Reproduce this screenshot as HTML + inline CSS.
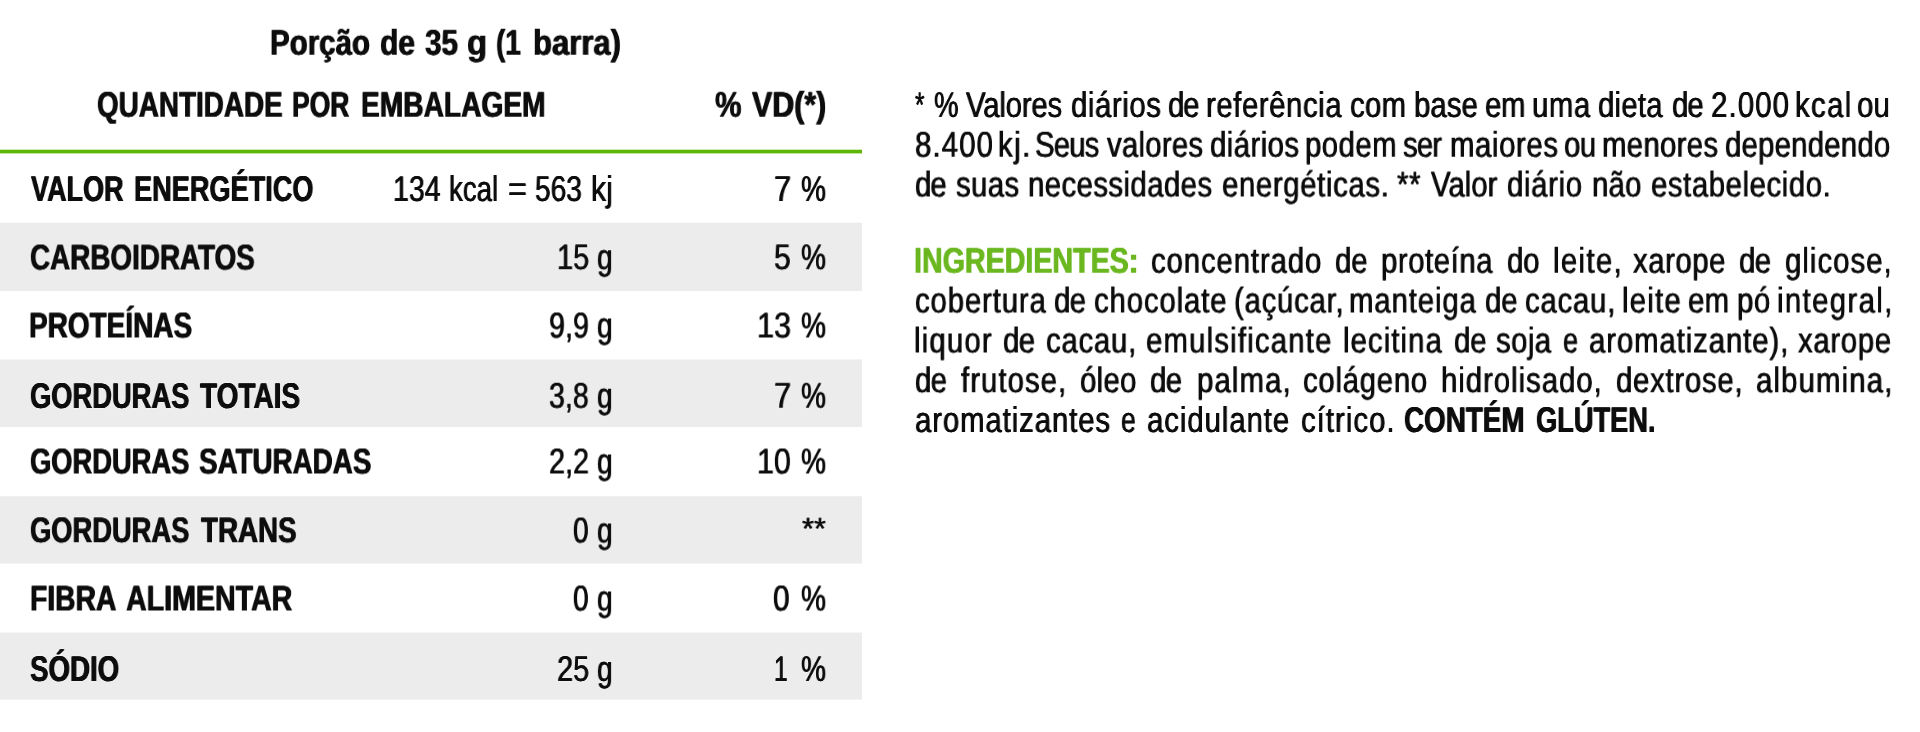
<!DOCTYPE html>
<html lang="pt-BR"><head><meta charset="utf-8"><title>Tabela Nutricional</title>
<style>
html,body{margin:0;padding:0;background:#fff;}
body{width:1920px;height:732px;position:relative;overflow:hidden;font-family:"Liberation Sans", sans-serif;}
.t{position:absolute;white-space:pre;font:400 35.75px/35.75px "Liberation Sans", sans-serif;color:#0d0d0d;transform-origin:0 29.00px;will-change:transform;text-rendering:geometricPrecision;text-shadow:0.42px 0 0 currentColor,-0.42px 0 0 currentColor;}
.b{font-weight:700;text-shadow:0.55px 0 0 currentColor,-0.55px 0 0 currentColor;}
.h{text-shadow:0.42px 0 0 currentColor,-0.42px 0 0 currentColor,0 0 1.5px #fff,0 0 1.5px #fff;}
.b.h{text-shadow:0.55px 0 0 currentColor,-0.55px 0 0 currentColor,0 0 1.5px #fff,0 0 1.5px #fff;}
.g{position:absolute;left:0;width:862px;}
</style></head><body>
<div class="g" style="top:149px;height:5px;background:linear-gradient(to bottom,#cfe9b5 0,#cfe9b5 1px,#5eb608 1px,#5eb608 4px,#bfe29c 4px,#bfe29c 5px)"></div>
<div class="g" style="top:222px;height:69px;background:linear-gradient(to bottom,#f9f9f9 0,#f9f9f9 1px,#ececec 1px,#ececec 68px,#ececec 68px,#ececec 69px)"></div>
<div class="g" style="top:359px;height:68px;background:linear-gradient(to bottom,#f4f4f4 0,#f4f4f4 1px,#ececec 1px,#ececec 67px,#ececec 67px,#ececec 68px)"></div>
<div class="g" style="top:496px;height:68px;background:linear-gradient(to bottom,#f0f0f0 0,#f0f0f0 1px,#ececec 1px,#ececec 67px,#f4f4f4 67px,#f4f4f4 68px)"></div>
<div class="g" style="top:632px;height:68px;background:linear-gradient(to bottom,#f6f6f6 0,#f6f6f6 1px,#ececec 1px,#ececec 67px,#f2f2f2 67px,#f2f2f2 68px)"></div>
<div class="l">
<span class="t b" style="left:270.40px;top:25px;transform:translateY(0.75px) scaleX(0.8249);">Porção</span>
<span class="t b" style="left:380.06px;top:25px;transform:translateY(0.75px) scaleX(0.8373);">de</span>
<span class="t b" style="left:424.57px;top:25px;transform:translateY(0.75px) scaleX(0.8287);">35</span>
<span class="t b" style="left:466.89px;top:25px;transform:translateY(0.75px) scaleX(0.9187);">g</span>
<span class="t b" style="left:496.14px;top:25px;transform:translateY(0.75px) scaleX(0.7823);">(1</span>
<span class="t b" style="left:532.82px;top:25px;transform:translateY(0.75px) scaleX(0.8675);">barra)</span>
</div>
<div class="l">
<span class="t b" style="left:97.22px;top:87px;transform:translateY(0.75px) scaleX(0.7790);">QUANTIDADE</span>
<span class="t b" style="left:292.40px;top:87px;transform:translateY(0.75px) scaleX(0.7409);">POR</span>
<span class="t b" style="left:361.06px;top:87px;transform:translateY(0.75px) scaleX(0.7876);">EMBALAGEM</span>
</div>
<div class="l">
<span class="t b" style="left:714.67px;top:87px;transform:translateY(0.75px) scaleX(0.8304);">%</span>
<span class="t b" style="left:752.28px;top:87px;transform:translateY(0.75px) scaleX(0.8500);">VD(*)</span>
</div>
<div class="l">
<span class="t b" style="left:30.97px;top:172px;transform:scaleX(0.7556);">VALOR</span>
<span class="t b" style="left:134.42px;top:172px;transform:scaleX(0.7594);">ENERGÉTICO</span>
</div>
<div class="l">
<span class="t" style="left:393.43px;top:172px;transform:scaleX(0.7989);">134</span>
<span class="t" style="left:449.34px;top:172px;transform:scaleX(0.7719);">kcal</span>
<span class="t" style="left:507.88px;top:172px;transform:scaleX(0.9060);">=</span>
<span class="t" style="left:535.49px;top:172px;transform:scaleX(0.7859);">563</span>
<span class="t" style="left:591.26px;top:172px;transform:scaleX(0.8443);">kj</span>
</div>
<div class="l">
<span class="t" style="left:773.66px;top:172px;transform:scaleX(0.8632);">7</span>
<span class="t" style="left:801.21px;top:172px;transform:scaleX(0.7841);">%</span>
</div>
<div class="l">
<span class="t b h" style="left:30.21px;top:240px;transform:translateY(0.5px) scaleX(0.7787);">CARBOIDRATOS</span>
</div>
<div class="l">
<span class="t h" style="left:556.71px;top:240px;transform:translateY(0.25px) scaleX(0.8094);">15</span>
<span class="t h" style="left:597.49px;top:240px;transform:translateY(0.25px) scaleX(0.7882);">g</span>
</div>
<div class="l">
<span class="t h" style="left:773.69px;top:240px;transform:translateY(0.25px) scaleX(0.8436);">5</span>
<span class="t h" style="left:801.21px;top:240px;transform:translateY(0.25px) scaleX(0.7841);">%</span>
</div>
<div class="l">
<span class="t b" style="left:29.47px;top:308px;transform:translateY(0.5px) scaleX(0.7822);">PROTEÍNAS</span>
</div>
<div class="l">
<span class="t" style="left:549.43px;top:308px;transform:translateY(0.5px) scaleX(0.8025);">9,9</span>
<span class="t" style="left:597.49px;top:308px;transform:translateY(0.5px) scaleX(0.7882);">g</span>
</div>
<div class="l">
<span class="t" style="left:756.52px;top:308px;transform:translateY(0.5px) scaleX(0.8565);">13</span>
<span class="t" style="left:801.21px;top:308px;transform:translateY(0.5px) scaleX(0.7841);">%</span>
</div>
<div class="l">
<span class="t b h" style="left:30.23px;top:379px;transform:scaleX(0.7641);">GORDURAS</span>
<span class="t b h" style="left:199.94px;top:379px;transform:scaleX(0.7831);">TOTAIS</span>
</div>
<div class="l">
<span class="t h" style="left:549.48px;top:378px;transform:translateY(0.75px) scaleX(0.7994);">3,8</span>
<span class="t h" style="left:597.49px;top:378px;transform:translateY(0.75px) scaleX(0.7882);">g</span>
</div>
<div class="l">
<span class="t h" style="left:773.66px;top:378px;transform:translateY(0.75px) scaleX(0.8632);">7</span>
<span class="t h" style="left:801.21px;top:378px;transform:translateY(0.75px) scaleX(0.7841);">%</span>
</div>
<div class="l">
<span class="t b" style="left:30.23px;top:444px;transform:translateY(0.5px) scaleX(0.7641);">GORDURAS</span>
<span class="t b" style="left:199.39px;top:444px;transform:translateY(0.5px) scaleX(0.7769);">SATURADAS</span>
</div>
<div class="l">
<span class="t" style="left:549.42px;top:444px;transform:translateY(0.5px) scaleX(0.8041);">2,2</span>
<span class="t" style="left:597.49px;top:444px;transform:translateY(0.5px) scaleX(0.7882);">g</span>
</div>
<div class="l">
<span class="t" style="left:756.54px;top:444px;transform:translateY(0.5px) scaleX(0.8490);">10</span>
<span class="t" style="left:801.21px;top:444px;transform:translateY(0.5px) scaleX(0.7841);">%</span>
</div>
<div class="l">
<span class="t b h" style="left:30.23px;top:513px;transform:translateY(0.25px) scaleX(0.7641);">GORDURAS</span>
<span class="t b h" style="left:200.64px;top:513px;transform:translateY(0.25px) scaleX(0.7764);">TRANS</span>
</div>
<div class="l">
<span class="t h" style="left:573.06px;top:513px;transform:translateY(0.5px) scaleX(0.7800);">0</span>
<span class="t h" style="left:597.49px;top:513px;transform:translateY(0.5px) scaleX(0.7882);">g</span>
</div>
<div class="l">
<span class="t h" style="left:802.43px;top:510px;transform:scale(0.8600,0.86);">**</span>
</div>
<div class="l">
<span class="t b" style="left:29.96px;top:581px;transform:translateY(0.5px) scaleX(0.7908);">FIBRA</span>
<span class="t b" style="left:126.25px;top:581px;transform:translateY(0.5px) scaleX(0.8001);">ALIMENTAR</span>
</div>
<div class="l">
<span class="t" style="left:573.06px;top:581px;transform:translateY(0.5px) scaleX(0.7800);">0</span>
<span class="t" style="left:597.49px;top:581px;transform:translateY(0.5px) scaleX(0.7882);">g</span>
</div>
<div class="l">
<span class="t" style="left:773.42px;top:581px;transform:translateY(0.5px) scaleX(0.8291);">0</span>
<span class="t" style="left:801.21px;top:581px;transform:translateY(0.5px) scaleX(0.7841);">%</span>
</div>
<div class="l">
<span class="t b h" style="left:29.90px;top:652px;transform:scaleX(0.7743);">SÓDIO</span>
</div>
<div class="l">
<span class="t h" style="left:556.62px;top:652px;transform:scaleX(0.8094);">25</span>
<span class="t h" style="left:597.49px;top:652px;transform:scaleX(0.7882);">g</span>
</div>
<div class="l">
<span class="t h" style="left:773.95px;top:652px;transform:scaleX(0.6905);">1</span>
<span class="t h" style="left:801.21px;top:652px;transform:scaleX(0.7841);">%</span>
</div>
<div class="l">
<span class="t" style="left:915.32px;top:88px;transform:scaleX(0.6742);">*</span>
<span class="t" style="left:934.12px;top:88px;transform:scaleX(0.7693);">%</span>
<span class="t" style="left:966.20px;top:88px;transform:scaleX(0.8200);letter-spacing:-0.213px;">Valores</span>
<span class="t" style="left:1070.76px;top:88px;transform:scaleX(0.8200);letter-spacing:0.721px;">diários</span>
<span class="t" style="left:1168.16px;top:88px;transform:scaleX(0.8200);letter-spacing:-1.364px;">de</span>
<span class="t" style="left:1206.30px;top:88px;transform:scaleX(0.8200);letter-spacing:0.705px;">referência</span>
<span class="t" style="left:1350.06px;top:88px;transform:scaleX(0.8200);letter-spacing:0.36px;">com</span>
<span class="t" style="left:1413.64px;top:88px;transform:scaleX(0.8200);letter-spacing:0.106px;">base</span>
<span class="t" style="left:1484.86px;top:88px;transform:scaleX(0.8200);letter-spacing:-0.312px;">em</span>
<span class="t" style="left:1532.24px;top:88px;transform:scaleX(0.8200);letter-spacing:0.704px;">uma</span>
<span class="t" style="left:1598.46px;top:88px;transform:scaleX(0.8200);letter-spacing:0.296px;">dieta</span>
<span class="t" style="left:1671.66px;top:88px;transform:scaleX(0.8200);letter-spacing:-1.12px;">de</span>
<span class="t" style="left:1710.51px;top:88px;transform:scaleX(0.8200);letter-spacing:1.414px;">2.000</span>
<span class="t" style="left:1795.00px;top:88px;transform:scaleX(0.8200);letter-spacing:1.653px;">kcal</span>
<span class="t" style="left:1856.86px;top:88px;transform:scaleX(0.8200);letter-spacing:0.278px;">ou</span>
</div>
<div class="l">
<span class="t" style="left:914.55px;top:127px;transform:translateY(0.75px) scaleX(0.8200);letter-spacing:1.4px;">8.400</span>
<span class="t" style="left:997.90px;top:127px;transform:translateY(0.75px) scaleX(0.8200);letter-spacing:1.839px;">kj.</span>
<span class="t" style="left:1035.21px;top:127px;transform:translateY(0.75px) scaleX(0.8200);letter-spacing:-1.005px;">Seus</span>
<span class="t" style="left:1107.11px;top:127px;transform:translateY(0.75px) scaleX(0.8200);letter-spacing:0.317px;">valores</span>
<span class="t" style="left:1209.86px;top:127px;transform:translateY(0.75px) scaleX(0.8200);letter-spacing:0.538px;">diários</span>
<span class="t" style="left:1304.74px;top:127px;transform:translateY(0.75px) scaleX(0.8200);letter-spacing:0.569px;">podem</span>
<span class="t" style="left:1402.99px;top:127px;transform:translateY(0.75px) scaleX(0.8200);letter-spacing:-1.06px;">ser</span>
<span class="t" style="left:1449.90px;top:127px;transform:translateY(0.75px) scaleX(0.8200);letter-spacing:0.757px;">maiores</span>
<span class="t" style="left:1563.96px;top:127px;transform:translateY(0.75px) scaleX(0.8200);letter-spacing:-0.453px;">ou</span>
<span class="t" style="left:1601.80px;top:127px;transform:translateY(0.75px) scaleX(0.8200);letter-spacing:0.403px;">menores</span>
<span class="t" style="left:1724.76px;top:127px;transform:translateY(0.75px) scaleX(0.8200);letter-spacing:0.291px;">dependendo</span>
</div>
<div class="l">
<span class="t" style="left:914.56px;top:167px;transform:translateY(0.5px) scaleX(0.8200);letter-spacing:-1.12px;">de</span>
<span class="t" style="left:955.79px;top:167px;transform:translateY(0.5px) scaleX(0.8200);letter-spacing:0.499px;">suas</span>
<span class="t" style="left:1027.80px;top:167px;transform:translateY(0.5px) scaleX(0.8200);letter-spacing:0.529px;">necessidades</span>
<span class="t" style="left:1221.66px;top:167px;transform:translateY(0.5px) scaleX(0.8200);letter-spacing:0.785px;">energéticas.</span>
<span class="t" style="left:1397.43px;top:167px;transform:translateY(0.5px) scaleX(0.8200);letter-spacing:0.862px;">**</span>
<span class="t" style="left:1430.60px;top:167px;transform:translateY(0.5px) scaleX(0.8200);letter-spacing:0.022px;">Valor</span>
<span class="t" style="left:1507.26px;top:167px;transform:translateY(0.5px) scaleX(0.8200);letter-spacing:0.809px;">diário</span>
<span class="t" style="left:1591.90px;top:167px;transform:translateY(0.5px) scaleX(0.8200);letter-spacing:0.267px;">não</span>
<span class="t" style="left:1650.76px;top:167px;transform:translateY(0.5px) scaleX(0.8200);letter-spacing:0.708px;">estabelecido.</span>
</div>
<div class="l">
<span class="t b" style="left:914.14px;top:243px;transform:translateY(0.75px) scaleX(0.8010);color:#6ab71f;">INGREDIENTES:</span>
<span class="t" style="left:1151.26px;top:243px;transform:translateY(0.75px) scaleX(0.8200);letter-spacing:1.084px;">concentrado</span>
<span class="t" style="left:1335.06px;top:243px;transform:translateY(0.75px) scaleX(0.8200);letter-spacing:-0.023px;">de</span>
<span class="t" style="left:1381.24px;top:243px;transform:translateY(0.75px) scaleX(0.8200);letter-spacing:0.683px;">proteína</span>
<span class="t" style="left:1507.26px;top:243px;transform:translateY(0.75px) scaleX(0.8200);letter-spacing:-0.089px;">do</span>
<span class="t" style="left:1552.89px;top:243px;transform:translateY(0.75px) scaleX(0.8200);letter-spacing:1.66px;">leite,</span>
<span class="t" style="left:1633.43px;top:243px;transform:translateY(0.75px) scaleX(0.8200);letter-spacing:0.687px;">xarope</span>
<span class="t" style="left:1739.26px;top:243px;transform:translateY(0.75px) scaleX(0.8200);letter-spacing:-0.632px;">de</span>
<span class="t" style="left:1785.26px;top:243px;transform:translateY(0.75px) scaleX(0.8200);letter-spacing:1.271px;">glicose,</span>
</div>
<div class="l">
<span class="t" style="left:914.56px;top:283px;transform:translateY(0.5px) scaleX(0.8200);letter-spacing:1.061px;">cobertura</span>
<span class="t" style="left:1054.46px;top:283px;transform:translateY(0.5px) scaleX(0.8200);letter-spacing:-0.754px;">de</span>
<span class="t" style="left:1094.06px;top:283px;transform:translateY(0.5px) scaleX(0.8200);letter-spacing:1.072px;">chocolate</span>
<span class="t" style="left:1234.09px;top:283px;transform:translateY(0.5px) scaleX(0.8200);letter-spacing:0.93px;">(açúcar,</span>
<span class="t" style="left:1349.30px;top:283px;transform:translateY(0.5px) scaleX(0.8200);letter-spacing:1.096px;">manteiga</span>
<span class="t" style="left:1484.86px;top:283px;transform:translateY(0.5px) scaleX(0.8200);letter-spacing:-0.023px;">de</span>
<span class="t" style="left:1524.76px;top:283px;transform:translateY(0.5px) scaleX(0.8200);letter-spacing:0.964px;">cacau,</span>
<span class="t" style="left:1621.59px;top:283px;transform:translateY(0.5px) scaleX(0.8200);letter-spacing:1.51px;">leite</span>
<span class="t" style="left:1687.86px;top:283px;transform:translateY(0.5px) scaleX(0.8200);letter-spacing:0.42px;">em</span>
<span class="t" style="left:1736.74px;top:283px;transform:translateY(0.5px) scaleX(0.8200);letter-spacing:0.793px;">pó</span>
<span class="t" style="left:1776.60px;top:283px;transform:translateY(0.5px) scaleX(0.8200);letter-spacing:1.681px;">integral,</span>
</div>
<div class="l">
<span class="t" style="left:913.79px;top:323px;transform:translateY(0.5px) scaleX(0.8200);letter-spacing:1.441px;">liquor</span>
<span class="t" style="left:1003.06px;top:323px;transform:translateY(0.5px) scaleX(0.8200);letter-spacing:-0.632px;">de</span>
<span class="t" style="left:1046.26px;top:323px;transform:translateY(0.5px) scaleX(0.8200);letter-spacing:0.94px;">cacau,</span>
<span class="t" style="left:1145.96px;top:323px;transform:translateY(0.5px) scaleX(0.8200);letter-spacing:1.449px;">emulsificante</span>
<span class="t" style="left:1342.59px;top:323px;transform:translateY(0.5px) scaleX(0.8200);letter-spacing:1.313px;">lecitina</span>
<span class="t" style="left:1453.66px;top:323px;transform:translateY(0.5px) scaleX(0.8200);letter-spacing:-0.023px;">de</span>
<span class="t" style="left:1496.39px;top:323px;transform:translateY(0.5px) scaleX(0.8200);letter-spacing:0.522px;">soja</span>
<span class="t" style="left:1562.72px;top:323px;transform:translateY(0.5px) scaleX(0.7544);">e</span>
<span class="t" style="left:1588.76px;top:323px;transform:translateY(0.5px) scaleX(0.8200);letter-spacing:1.114px;">aromatizante),</span>
<span class="t" style="left:1797.63px;top:323px;transform:translateY(0.5px) scaleX(0.8200);letter-spacing:0.834px;">xarope</span>
</div>
<div class="l">
<span class="t" style="left:914.56px;top:363px;transform:translateY(0.25px) scaleX(0.8200);letter-spacing:-0.754px;">de</span>
<span class="t" style="left:961.38px;top:363px;transform:translateY(0.25px) scaleX(0.8200);letter-spacing:1.292px;">frutose,</span>
<span class="t" style="left:1079.56px;top:363px;transform:translateY(0.25px) scaleX(0.8200);letter-spacing:0.375px;">óleo</span>
<span class="t" style="left:1150.36px;top:363px;transform:translateY(0.25px) scaleX(0.8200);letter-spacing:-0.632px;">de</span>
<span class="t" style="left:1197.04px;top:363px;transform:translateY(0.25px) scaleX(0.8200);letter-spacing:1.387px;">palma,</span>
<span class="t" style="left:1303.16px;top:363px;transform:translateY(0.25px) scaleX(0.8200);letter-spacing:0.897px;">colágeno</span>
<span class="t" style="left:1441.36px;top:363px;transform:translateY(0.25px) scaleX(0.8200);letter-spacing:1.196px;">hidrolisado,</span>
<span class="t" style="left:1615.56px;top:363px;transform:translateY(0.25px) scaleX(0.8200);letter-spacing:0.909px;">dextrose,</span>
<span class="t" style="left:1755.56px;top:363px;transform:translateY(0.25px) scaleX(0.8200);letter-spacing:1.403px;">albumina,</span>
</div>
<div class="l">
<span class="t" style="left:914.56px;top:403px;transform:scaleX(0.8200);letter-spacing:1.115px;">aromatizantes</span>
<span class="t" style="left:1120.73px;top:403px;transform:scaleX(0.7434);">e</span>
<span class="t" style="left:1146.56px;top:403px;transform:scaleX(0.8200);letter-spacing:1.158px;">acidulante</span>
<span class="t" style="left:1300.56px;top:403px;transform:scaleX(0.8200);letter-spacing:1.262px;">cítrico.</span>
<span class="t b" style="left:1404.11px;top:403px;transform:scaleX(0.7782);">CONTÉM</span>
<span class="t b" style="left:1536.13px;top:403px;transform:scaleX(0.7616);">GLÚTEN.</span>
</div>
</body></html>
